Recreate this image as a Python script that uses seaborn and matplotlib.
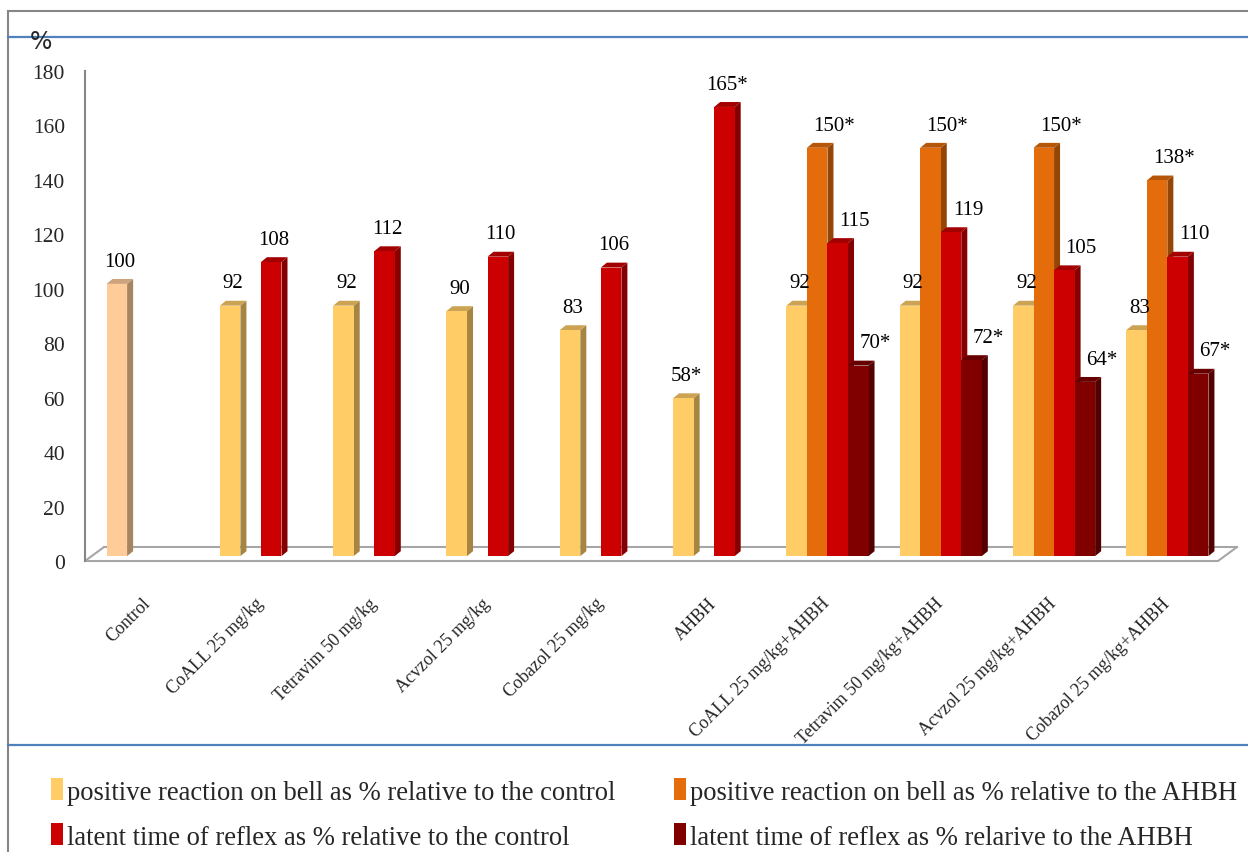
import pandas as pd
import matplotlib
matplotlib.use('Agg')
import matplotlib.pyplot as plt
import seaborn as sns
from matplotlib.patches import Polygon, Patch, Rectangle
from matplotlib.lines import Line2D
import numpy as np

groups = ['Control', 'CoALL 25 mg/kg', 'Tetravim 50 mg/kg', 'Acvzol 25 mg/kg',
          'Cobazol 25 mg/kg', 'AHBH', 'CoALL 25 mg/kg+AHBH', 'Tetravim 50 mg/kg+AHBH',
          'Acvzol 25 mg/kg+AHBH', 'Cobazol 25 mg/kg+AHBH']

series = ['positive reaction on bell as % relative to the control',
          'positive reaction on bell as % relative to the AHBH',
          'latent time of reflex as % relative to the control',
          'latent time of reflex as % relarive to the AHBH']

nan = np.nan
bell_vs_control = [100, 92, 92, 90, 83, 58, 92, 92, 92, 83]
bell_vs_ahbh = [nan, nan, nan, nan, nan, nan, 150, 150, 150, 138]
latent_vs_control = [nan, 108, 112, 110, 106, 165, 115, 119, 105, 110]
latent_vs_ahbh = [nan, nan, nan, nan, nan, nan, 70, 72, 64, 67]

# significance marks (*) shown next to the values
star_bell_control = [0, 0, 0, 0, 0, 1, 0, 0, 0, 0]
star_bell_ahbh = [0, 0, 0, 0, 0, 0, 1, 1, 1, 1]
star_latent_control = [0, 0, 0, 0, 0, 1, 0, 0, 0, 0]
star_latent_ahbh = [0, 0, 0, 0, 0, 0, 1, 1, 1, 1]

colors = ['#FFCC66', '#E46C0A', '#CC0000', '#800000']
control_color = '#FFCC99'

W, H = 1248, 853
DX = 0.053    # 3D depth in x (category units)
DY = 1.8      # 3D depth in y (value units)
LIFT = 1.8    # bars sit on the back of the floor


def shade(c, f):
    r, g, b = matplotlib.colors.to_rgb(c)
    return (r * f, g * f, b * f)


def main():
    values = [bell_vs_control, bell_vs_ahbh, latent_vs_control, latent_vs_ahbh]
    stars = [star_bell_control, star_bell_ahbh, star_latent_control, star_latent_ahbh]

    rows = []
    for s, vals in zip(series, values):
        for g, v in zip(groups, vals):
            rows.append({'group': g, 'series': s, 'value': v})
    df = pd.DataFrame(rows).dropna()

    sns.set_theme(style='white')
    plt.rcParams['font.family'] = ['Liberation Serif', 'DejaVu Serif']

    fig = plt.figure(figsize=(W / 100, H / 100), dpi=100)
    ax = fig.add_axes([85 / W, 1 - 562 / H, (1218 - 85) / W, (562 - 72) / H])

    sns.barplot(data=df, x='group', y='value', hue='series', order=groups,
                hue_order=series, palette=colors, width=0.725, saturation=1,
                edgecolor='none', linewidth=0, legend=False, ax=ax)

    ax.set_xlim(-0.5, len(groups) - 0.5)
    ax.set_ylim(0, 180)
    ax.set_yticks(range(0, 181, 20))

    # bars with 3D side and top faces, plus value labels
    for si, cont in enumerate(ax.containers):
        present = [gi for gi, v in enumerate(values[si]) if not np.isnan(v)]
        for p, gi in zip(cont.patches, present):
            p.set_x(p.get_x() + DX)
            p.set_y(LIFT)
            base = colors[si]
            if si == 0 and gi == 0:
                base = control_color
            p.set_facecolor(base)
            x0, w, h = p.get_x(), p.get_width(), p.get_height()
            y0 = LIFT
            z = 2 + x0 * 0.01
            p.set_zorder(z + 0.002)
            side = Polygon([(x0 + w, y0), (x0 + w + DX, y0 + DY),
                            (x0 + w + DX, y0 + h + DY), (x0 + w, y0 + h)],
                           closed=True, facecolor=shade(base, 0.65), edgecolor='none', zorder=z)
            top = Polygon([(x0, y0 + h), (x0 + DX, y0 + h + DY),
                           (x0 + w + DX, y0 + h + DY), (x0 + w, y0 + h)],
                          closed=True, facecolor=shade(base, 0.8), edgecolor='none', zorder=z + 0.001)
            ax.add_patch(side)
            ax.add_patch(top)

            val = values[si][gi]
            txt = f'{val:.0f}' + ('*' if stars[si][gi] else '')
            shift = 0
            if si > 0 and not np.isnan(values[si - 1][gi]):
                shift = 10
            kw = {}
            if si == 3:
                kw['bbox'] = dict(facecolor='white', edgecolor='none', pad=1)
            ax.annotate(txt, (x0 + w / 2 + DX / 2, y0 + h + DY),
                        xytext=(shift, 6), textcoords='offset points',
                        ha='center', va='bottom', fontsize=15, color='black',
                        zorder=5, **kw)

    # 3D floor
    floor_c = '#A6A6A6'
    fy0, fy1 = 0, LIFT + 3.4
    ax.add_line(Line2D([-0.5, len(groups) - 0.5], [fy0, fy0], color=floor_c, lw=1.5, clip_on=False))
    ax.add_line(Line2D([-0.5 + 0.17, len(groups) - 0.5 + 0.17], [fy1, fy1], color=floor_c, lw=1.5, clip_on=False, zorder=0.5))
    ax.add_line(Line2D([-0.5, -0.5 + 0.17], [fy0, fy1], color=floor_c, lw=1.5, clip_on=False))
    ax.add_line(Line2D([len(groups) - 0.5, len(groups) - 0.5 + 0.17], [fy0, fy1], color=floor_c, lw=1.5, clip_on=False))

    for s in ['top', 'right', 'bottom']:
        ax.spines[s].set_visible(False)
    ax.spines['left'].set_color('#868686')
    ax.spines['left'].set_linewidth(1.5)

    ax.set_xticks(range(len(groups)))
    ax.set_xticklabels(groups, rotation=45, ha='right', rotation_mode='anchor', fontsize=13)
    ax.set_xticks(np.arange(-0.5, len(groups), 1), minor=True)
    ax.tick_params(axis='x', which='major', length=0, pad=24)
    ax.tick_params(axis='x', which='minor', length=6, width=1.5, color='#868686', direction='out')
    ax.tick_params(axis='y', length=6, width=1.5, color='#868686', direction='out', labelsize=15.5, pad=8.5)
    ax.set_xlabel('')
    ax.set_ylabel('')
    ax.patch.set_alpha(0)

    # percent sign above the axis
    fig.text(30 / W, 1 - 42 / H, '%', fontsize=17, family='DejaVu Sans', ha='left', va='center')

    # frame and separators
    fig.add_artist(Rectangle((8 / W, -0.01), 1.0, 1 - 12 / H + 0.01, transform=fig.transFigure,
                             fill=False, edgecolor='#868686', lw=1.5))
    fig.add_artist(Line2D([8 / W, 1], [1 - 38 / H] * 2, color='#4F81BD', lw=1.6))
    fig.add_artist(Line2D([8 / W, 1], [1 - 746 / H] * 2, color='#4F81BD', lw=1.6))

    # legend filled row by row, as in the original
    order = [0, 2, 1, 3]
    handles = [Patch(facecolor=colors[i], edgecolor='none') for i in order]
    labels = [series[i] for i in order]
    fig.legend(handles, labels, loc='upper left', bbox_to_anchor=(38 / W, 1 - 766 / H),
               ncol=2, frameon=False, fontsize=19.2, handlelength=0.45, handleheight=0.9,
               handletextpad=0.15, columnspacing=2.2, labelspacing=0.7, borderpad=0)

    fig.savefig('out.png', dpi=100)


if __name__ == '__main__':
    main()
